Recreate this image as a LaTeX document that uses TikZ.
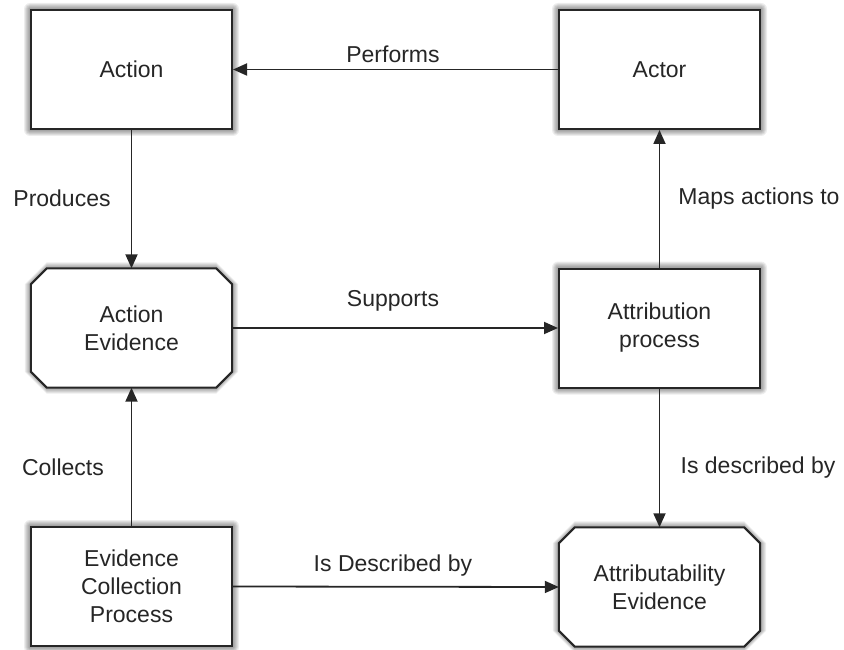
\documentclass[tikz,border=0pt]{standalone}
\usepackage{fontspec}
\setmainfont{Liberation Sans}
\usetikzlibrary{arrows.meta,backgrounds}
\newcommand\octp[2]{([shift={(16,-#2)}]#1.north west) -- ([shift={(-16,-#2)}]#1.north east) -- ([shift={(#2,16)}]#1.north east) -- ([shift={(#2,-16)}]#1.south east) -- ([shift={(-16,#2)}]#1.south east) -- ([shift={(16,#2)}]#1.south west) -- ([shift={(-#2,-16)}]#1.south west) -- ([shift={(-#2,16)}]#1.north west) -- cycle}
\newcommand\rectp[2]{([shift={(-#2,-#2)}]#1.north west) rectangle ([shift={(#2,#2)}]#1.south east)}
\begin{document}
\begin{tikzpicture}[x=1pt,y=-1pt,
  font=\fontsize{23}{28}\selectfont,
  txt/.style={text=black!85},
  boxbase/.style={rectangle, minimum width=201pt, minimum height=119pt, inner sep=0pt, align=center, txt},
  box/.style={boxbase, draw=black!85, line width=2pt, fill=white},
  oct/.style={boxbase},
  octline/.style={draw=black!85, line width=2pt, fill=white, line join=miter},
  shade/.style={fill=black, opacity=0.07, line join=round},
  conn/.style={draw=black!85, line width=1.8pt, -{Triangle[length=14pt,width=12pt]}},
  lbl/.style={txt, inner sep=0pt}]
\useasboundingbox (0,0) rectangle (844,650);
\node[box] (action) at (131.5,69.5) {Action};
\node[box] (actor) at (659.5,69.5) {Actor};
\node[oct] (ae) at (131.5,328) {Action\\Evidence};
\node[box] (ap) at (659.5,328) {Attribution\\process};
\node[box] (ecp) at (131.5,586.5) {Evidence\\Collection\\Process};
\node[oct] (ate) at (659.5,587) {Attributability\\Evidence};
\begin{pgfonlayer}{background}
  \begin{scope}[shift={(2,5)}]
    \foreach \r in {0,1,2,3,4,5,6}{
      \foreach \n in {action,actor,ap,ecp}{
        \fill[shade, rounded corners=\r pt] \rectp{\n}{\r};
      }
      \foreach \n in {ae,ate}{
        \fill[shade] \octp{\n}{\r};
      }
    }
  \end{scope}
  \path[octline] \octp{ae}{0};
  \path[octline] \octp{ate}{0};
\end{pgfonlayer}
\draw[conn] (actor.west) -- (action.east);
\draw[conn] (action.south) -- (ae.north);
\draw[conn] (ae.east) -- (ap.west);
\draw[conn] (ap.north) -- (actor.south);
\draw[conn] (ap.south) -- (ate.north);
\draw[conn] (ecp.north) -- (ae.south);
\draw[conn] (ecp.east) -- (ate.west);
\node[lbl] (l1) at (393,54) {Performs};
\node[lbl] (l2) at (62,198) {Produces};
\node[lbl] (l3) at (393,301) {Supports};
\node[lbl] (l4) at (759,199) {Maps actions to};
\node[lbl] (l5) at (758,468) {Is described by};
\node[lbl] (l6) at (63,467) {Collects};
\node[lbl] (l7) at (393,566) {Is Described by};
\end{tikzpicture}
\end{document}
